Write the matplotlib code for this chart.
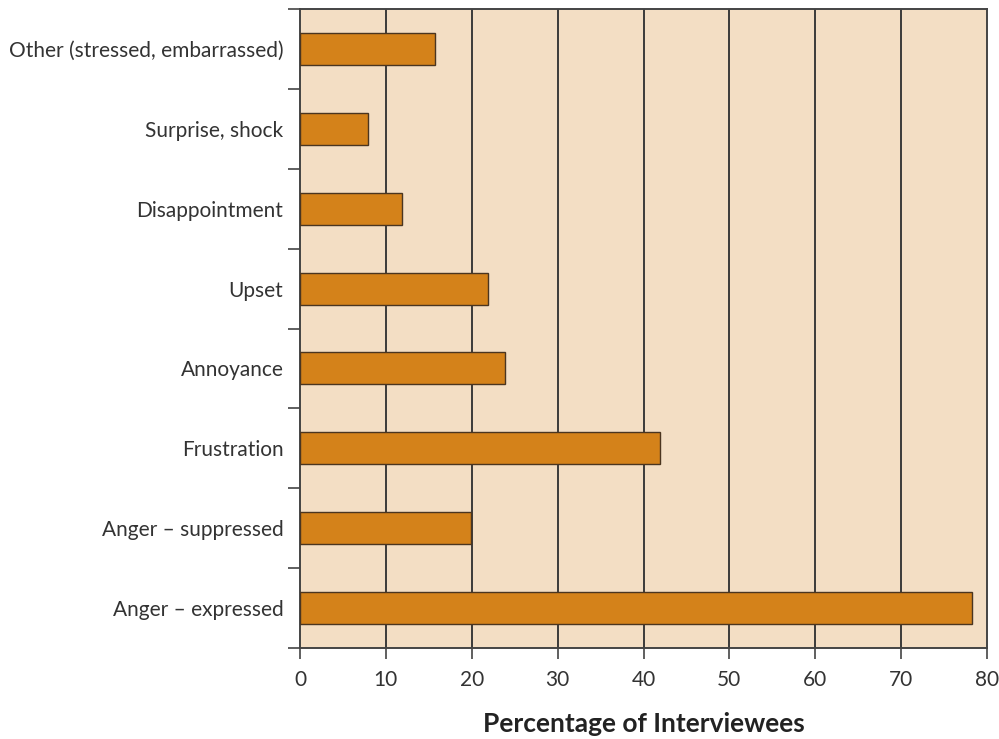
import matplotlib.pyplot as plt
import numpy as np

categories = ["Anger \u2013 expressed", "Anger \u2013 suppressed", "Frustration",
              "Annoyance", "Upset", "Disappointment", "Surprise, shock",
              "Other (stressed, embarrassed)"]
values = [78.2, 19.9, 41.9, 23.9, 21.9, 11.9, 7.9, 15.7]
x_ticks = [0, 10, 20, 30, 40, 50, 60, 70, 80]

plt.rcParams['font.family'] = ['Lato', 'DejaVu Sans']

fig = plt.figure(figsize=(9.99, 7.39), dpi=100)
ax = fig.add_axes([0.3003, 0.1231, 0.988 - 0.3003, 0.8647])
ax.set_facecolor('#F3DEC4')

y = np.arange(len(categories))
ax.barh(y, values, height=0.4, color='#D4821A', edgecolor='#4A3520',
        linewidth=1.0, zorder=3)

ax.set_xlim(0, 80)
ax.set_ylim(-0.5, len(categories) - 0.5)
ax.set_xticks(x_ticks)
ax.set_xticklabels([str(t) for t in x_ticks], fontsize=15, color='#333333')
ax.set_yticks(y)
ax.set_yticklabels(categories, fontsize=15, color='#333333')
ax.set_yticks(np.arange(len(categories) + 1) - 0.5, minor=True)
ax.tick_params(axis='y', which='major', length=0, pad=12)
ax.tick_params(axis='y', which='minor', length=9, width=1.2, color='#444444')
ax.tick_params(axis='x', length=8, width=1.2, color='#444444', pad=8)

for gx in x_ticks[1:-1]:
    ax.axvline(gx, color='#3A3A3A', linewidth=1.4, zorder=1)

for side in ['top', 'bottom', 'left', 'right']:
    ax.spines[side].set_linewidth(1.4)
    ax.spines[side].set_color('#444444')

ax.set_xlabel('Percentage of Interviewees', fontsize=19, fontweight='bold',
              color='#222222', labelpad=16)

fig.savefig('out.png', dpi=100)
